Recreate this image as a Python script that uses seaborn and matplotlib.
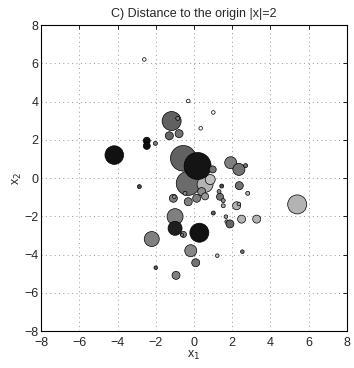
import numpy as np
import pandas as pd
import matplotlib
matplotlib.use("Agg")
import matplotlib.pyplot as plt
import seaborn as sns

# point positions, radius (px) and darkness (0 = white, 1 = black)
xs = [-2.60, -0.30, 1.01, 0.35, -1.17, -0.85, -1.29, -0.78, -2.47, -2.47,
      -2.02, -4.17, -0.56, -0.30, 0.58, 0.85, 0.19, 0.98, 1.92, 2.35,
      2.70, -2.86, 2.37, 2.81, 1.45, 1.31, 1.36, 1.53, 1.53, 2.23,
      2.35, -1.08, -1.03, -0.30, 0.14, 0.40, 0.58, -0.47, 1.01, 1.67,
      1.71, 1.88, 2.49, 3.28, -0.99, -0.99, -0.55, -0.62, 0.28, -2.21,
      -0.17, 0.09, -0.94, -2.00, 1.22, 2.53, 5.40]
ys = [6.20, 4.03, 3.43, 2.60, 2.98, 3.12, 2.21, 2.32, 1.95, 1.68,
      1.81, 1.20, 1.03, -0.28, -0.33, -0.08, 0.63, 0.45, 0.80, 0.45,
      0.65, -0.45, -0.40, -0.80, -0.42, -0.71, -0.98, -1.18, -1.45, -1.45,
      -1.36, -1.06, -0.98, -1.24, -1.06, -0.71, -0.96, -0.80, -1.83, -2.02,
      -2.28, -2.40, -2.15, -2.15, -2.02, -2.63, -2.95, -2.98, -2.86, -3.19,
      -3.80, -4.43, -5.09, -4.69, -4.06, -3.85, -1.38]
radius = [1.8, 1.8, 1.8, 1.8, 9.5, 2.0, 4.0, 4.0, 3.5, 3.5,
          2.0, 9.3, 12.8, 12.0, 8.0, 5.0, 13.5, 3.5, 6.0, 6.0,
          2.0, 2.0, 4.0, 2.0, 2.0, 2.0, 3.5, 2.0, 2.0, 4.0,
          1.8, 4.0, 1.8, 4.0, 4.0, 4.0, 3.5, 2.0, 2.0, 1.8,
          1.8, 4.0, 4.0, 4.0, 8.0, 7.0, 3.0, 1.5, 9.5, 7.5,
          6.0, 4.0, 4.0, 1.8, 1.8, 1.8, 9.5]
shade = [0.02, 0.02, 0.02, 0.02, 0.62, 0.5, 0.6, 0.55, 0.93, 0.93,
         0.5, 0.93, 0.62, 0.58, 0.3, 0.25, 0.92, 0.55, 0.5, 0.55,
         0.55, 0.7, 0.55, 0.3, 0.7, 0.45, 0.55, 0.45, 0.35, 0.3,
         0.35, 0.5, 0.4, 0.5, 0.5, 0.45, 0.4, 0.45, 0.65, 0.4,
         0.35, 0.6, 0.3, 0.3, 0.5, 0.88, 0.5, 0.45, 0.93, 0.5,
         0.47, 0.55, 0.5, 0.65, 0.25, 0.55, 0.3]

df = pd.DataFrame({"x1": xs, "x2": ys, "r": radius, "shade": shade})
# marker area in points^2 from pixel radius (100 dpi)
df["s"] = (2 * df["r"] * 0.72) ** 2

sns.set_theme(style="white")
plt.rcParams["font.family"] = ["Liberation Sans", "DejaVu Sans"]

fig = plt.figure(figsize=(3.54, 3.68), dpi=100)
ax = fig.add_axes([0.116, 0.1005, 0.864, 0.8315])

sns.scatterplot(data=df, x="x1", y="x2", hue="shade", palette="gray_r",
                hue_norm=(0, 1), s=df["s"].values, edgecolor="black",
                linewidth=0.5, legend=False, ax=ax, zorder=3)

ax.set_xlim(-8, 8)
ax.set_ylim(-8, 8)
ticks = np.arange(-8, 9, 2)
ax.set_xticks(ticks)
ax.set_yticks(ticks)
ax.tick_params(direction="in", length=3, width=0.6, labelsize=9,
               top=True, right=True, color="black", pad=2)
ax.tick_params(axis="x", pad=4)
ax.grid(True, linestyle=(0, (1, 3.5)), color="#999999", linewidth=0.7)
for sp in ax.spines.values():
    sp.set_color("black")
    sp.set_linewidth(0.8)

ax.set_title("C) Distance to the origin |x|=2", fontsize=9, pad=6)
ax.set_xlabel("x$_1$", fontsize=9, labelpad=0)
ax.set_ylabel("x$_2$", fontsize=9, labelpad=0)

fig.savefig("out.png", dpi=100, facecolor="white")
